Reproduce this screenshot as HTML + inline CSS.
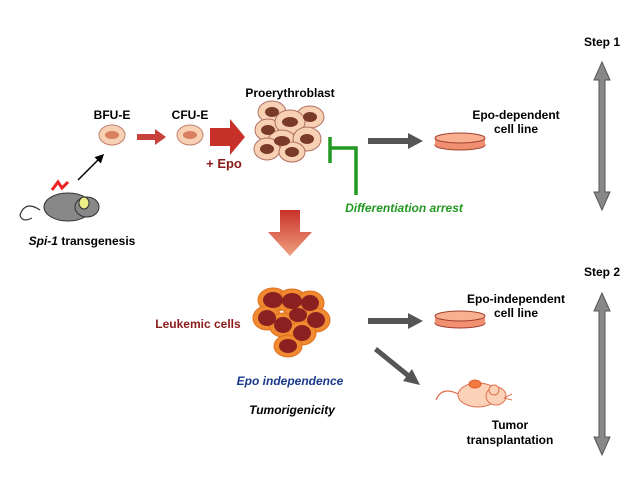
<!DOCTYPE html>
<html><head><style>body{margin:0;background:#fff}svg{display:block}text{font-family:"Liberation Sans",sans-serif;font-weight:bold}</style></head><body>
<svg width="640" height="480" viewBox="0 0 640 480">
<defs>
<linearGradient id="dg" x1="0" y1="0" x2="0" y2="1"><stop offset="0" stop-color="#c8322a"/><stop offset="1" stop-color="#f0a080"/></linearGradient>
<marker id="ah" markerWidth="6" markerHeight="6" refX="5" refY="3" orient="auto"><path d="M0,0L6,3L0,6z" fill="#000"/></marker>
</defs>
<!-- steps -->
<text x="602" y="46" font-size="12" text-anchor="middle">Step 1</text>
<text x="602" y="276" font-size="12" text-anchor="middle">Step 2</text>
<g fill="#888" stroke="#555" stroke-width="1">
<path d="M602,62L610,80L605,80L605,192L610,192L602,210L594,192L599,192L599,80L594,80z"/>
<path d="M602,293L610,311L605,311L605,437L610,437L602,455L594,437L599,437L599,311L594,311z"/>
</g>
<!-- mouse gray -->
<path d="M40,210 q-15,-10 -20,5 q2,8 12,3" fill="none" stroke="#333" stroke-width="1.2"/>
<ellipse cx="68" cy="207" rx="24" ry="14" fill="#888" stroke="#333"/>
<ellipse cx="87" cy="207" rx="12" ry="10" fill="#888" stroke="#333"/>
<ellipse cx="84" cy="203" rx="5" ry="6" fill="#ee8" stroke="#333"/>
<path d="M52,190l6,-8l4,6l6,-6" stroke="#e22" stroke-width="3" fill="none"/>
<line x1="78" y1="180" x2="103" y2="155" stroke="#000" stroke-width="1.5" marker-end="url(#ah)"/>
<text x="82" y="245" font-size="12" text-anchor="middle"><tspan font-style="italic">Spi-1</tspan> transgenesis</text>
<!-- BFU/CFU -->
<text x="112" y="119" font-size="12" text-anchor="middle">BFU-E</text>
<text x="190" y="119" font-size="12" text-anchor="middle">CFU-E</text>
<ellipse cx="112" cy="135" rx="13" ry="10" fill="#f8d0b4" stroke="#c08070"/><ellipse cx="112" cy="135" rx="7" ry="4" fill="#d88060"/>
<ellipse cx="190" cy="135" rx="13" ry="10" fill="#f8d0b4" stroke="#c08070"/><ellipse cx="190" cy="135" rx="7" ry="4" fill="#d88060"/>
<path d="M137,134h18v-5l11,8l-11,8v-5h-18z" fill="#c8403a"/>
<path d="M210,128h20v-9l15,18l-15,18v-9h-20z" fill="#c8302a"/>
<text x="224" y="168" font-size="13" fill="#8b1a1a" text-anchor="middle">+ Epo</text>
<!-- proerythroblast -->
<text x="290" y="97" font-size="12" text-anchor="middle">Proerythroblast</text>
<g stroke="#b07060" fill="#f8d0b4">
<ellipse cx="272" cy="112" rx="14" ry="11"/><ellipse cx="310" cy="117" rx="14" ry="11"/>
<ellipse cx="268" cy="130" rx="13" ry="11"/><ellipse cx="290" cy="122" rx="15" ry="12"/>
<ellipse cx="282" cy="141" rx="14" ry="11"/><ellipse cx="307" cy="139" rx="14" ry="12"/>
<ellipse cx="267" cy="149" rx="13" ry="11"/><ellipse cx="292" cy="152" rx="13" ry="10"/>
</g>
<g fill="#7a3a2a">
<ellipse cx="272" cy="112" rx="7" ry="5"/><ellipse cx="310" cy="117" rx="7" ry="5"/>
<ellipse cx="268" cy="130" rx="7" ry="5"/><ellipse cx="290" cy="122" rx="8" ry="5"/>
<ellipse cx="282" cy="141" rx="8" ry="5"/><ellipse cx="307" cy="139" rx="7" ry="5"/>
<ellipse cx="267" cy="149" rx="7" ry="5"/><ellipse cx="292" cy="152" rx="7" ry="5"/>
</g>
<!-- inhibition -->
<path d="M330,137v26M330,148h26v47" stroke="#229922" stroke-width="3.5" fill="none"/>
<text x="404" y="212" font-size="12" fill="#229922" font-style="italic" text-anchor="middle">Differentiation arrest</text>
<!-- gray arrows -->
<path d="M368,138h40v-5l15,8l-15,8v-5h-40z" fill="#555"/>
<path d="M368,318h40v-5l15,8l-15,8v-5h-40z" fill="#555"/>
<path d="M377,347l32,26l3,-4l8,16l-17,-4l3,-4l-32,-26z" fill="#555"/>
<!-- dishes -->
<g stroke="#a04030" fill="#f09070">
<ellipse cx="460" cy="145" rx="25" ry="5"/><rect x="435" y="138" width="50" height="7" stroke="none"/><ellipse cx="460" cy="138" rx="25" ry="5" fill="#f8b090"/>
<ellipse cx="460" cy="323" rx="25" ry="5"/><rect x="435" y="316" width="50" height="7" stroke="none"/><ellipse cx="460" cy="316" rx="25" ry="5" fill="#f8b090"/>
</g>
<text x="516" y="119" font-size="12" text-anchor="middle">Epo-dependent</text>
<text x="516" y="133" font-size="12" text-anchor="middle">cell line</text>
<text x="516" y="303" font-size="12" text-anchor="middle">Epo-independent</text>
<text x="516" y="317" font-size="12" text-anchor="middle">cell line</text>
<!-- down arrow -->
<path d="M280,210h20v22h12l-22,24l-22,-24h12z" fill="url(#dg)"/>
<!-- leukemic -->
<text x="198" y="328" font-size="12" fill="#8b1a1a" text-anchor="middle">Leukemic cells</text>
<g fill="#f08a30" stroke="#e07020">
<ellipse cx="273" cy="300" rx="15" ry="12"/><ellipse cx="292" cy="301" rx="15" ry="12"/><ellipse cx="310" cy="303" rx="14" ry="12"/>
<ellipse cx="267" cy="318" rx="14" ry="12"/><ellipse cx="298" cy="315" rx="14" ry="11"/><ellipse cx="316" cy="320" rx="14" ry="12"/>
<ellipse cx="283" cy="325" rx="14" ry="12"/><ellipse cx="302" cy="333" rx="14" ry="12"/><ellipse cx="288" cy="346" rx="14" ry="11"/>
</g>
<g fill="#8a2020">
<ellipse cx="273" cy="300" rx="10" ry="8"/><ellipse cx="292" cy="301" rx="10" ry="8"/><ellipse cx="310" cy="303" rx="9" ry="8"/>
<ellipse cx="267" cy="318" rx="9" ry="8"/><ellipse cx="298" cy="315" rx="9" ry="7"/><ellipse cx="316" cy="320" rx="9" ry="8"/>
<ellipse cx="283" cy="325" rx="9" ry="8"/><ellipse cx="302" cy="333" rx="9" ry="8"/><ellipse cx="288" cy="346" rx="9" ry="7"/>
</g>
<text x="290" y="385" font-size="12" fill="#1a3a8a" font-style="italic" text-anchor="middle">Epo independence</text>
<text x="292" y="414" font-size="12" font-style="italic" text-anchor="middle">Tumorigenicity</text>
<!-- tumor mouse -->
<path d="M460,395 q-18,-10 -24,5" fill="none" stroke="#e07050" stroke-width="1.2"/>
<ellipse cx="478" cy="395" rx="20" ry="12" fill="#fbd2b8" stroke="#e07050"/>
<ellipse cx="496" cy="396" rx="10" ry="9" fill="#fbd2b8" stroke="#e07050"/>
<circle cx="494" cy="390" r="5" fill="#fbd2b8" stroke="#e07050"/>
<ellipse cx="475" cy="384" rx="6" ry="4" fill="#f07a40" stroke="#e06030"/>
<path d="M504,398l8,-4M504,398l8,2" stroke="#e07050"/>
<text x="510" y="429" font-size="12" text-anchor="middle">Tumor</text>
<text x="510" y="444" font-size="12" text-anchor="middle">transplantation</text>
</svg>
</body></html>
